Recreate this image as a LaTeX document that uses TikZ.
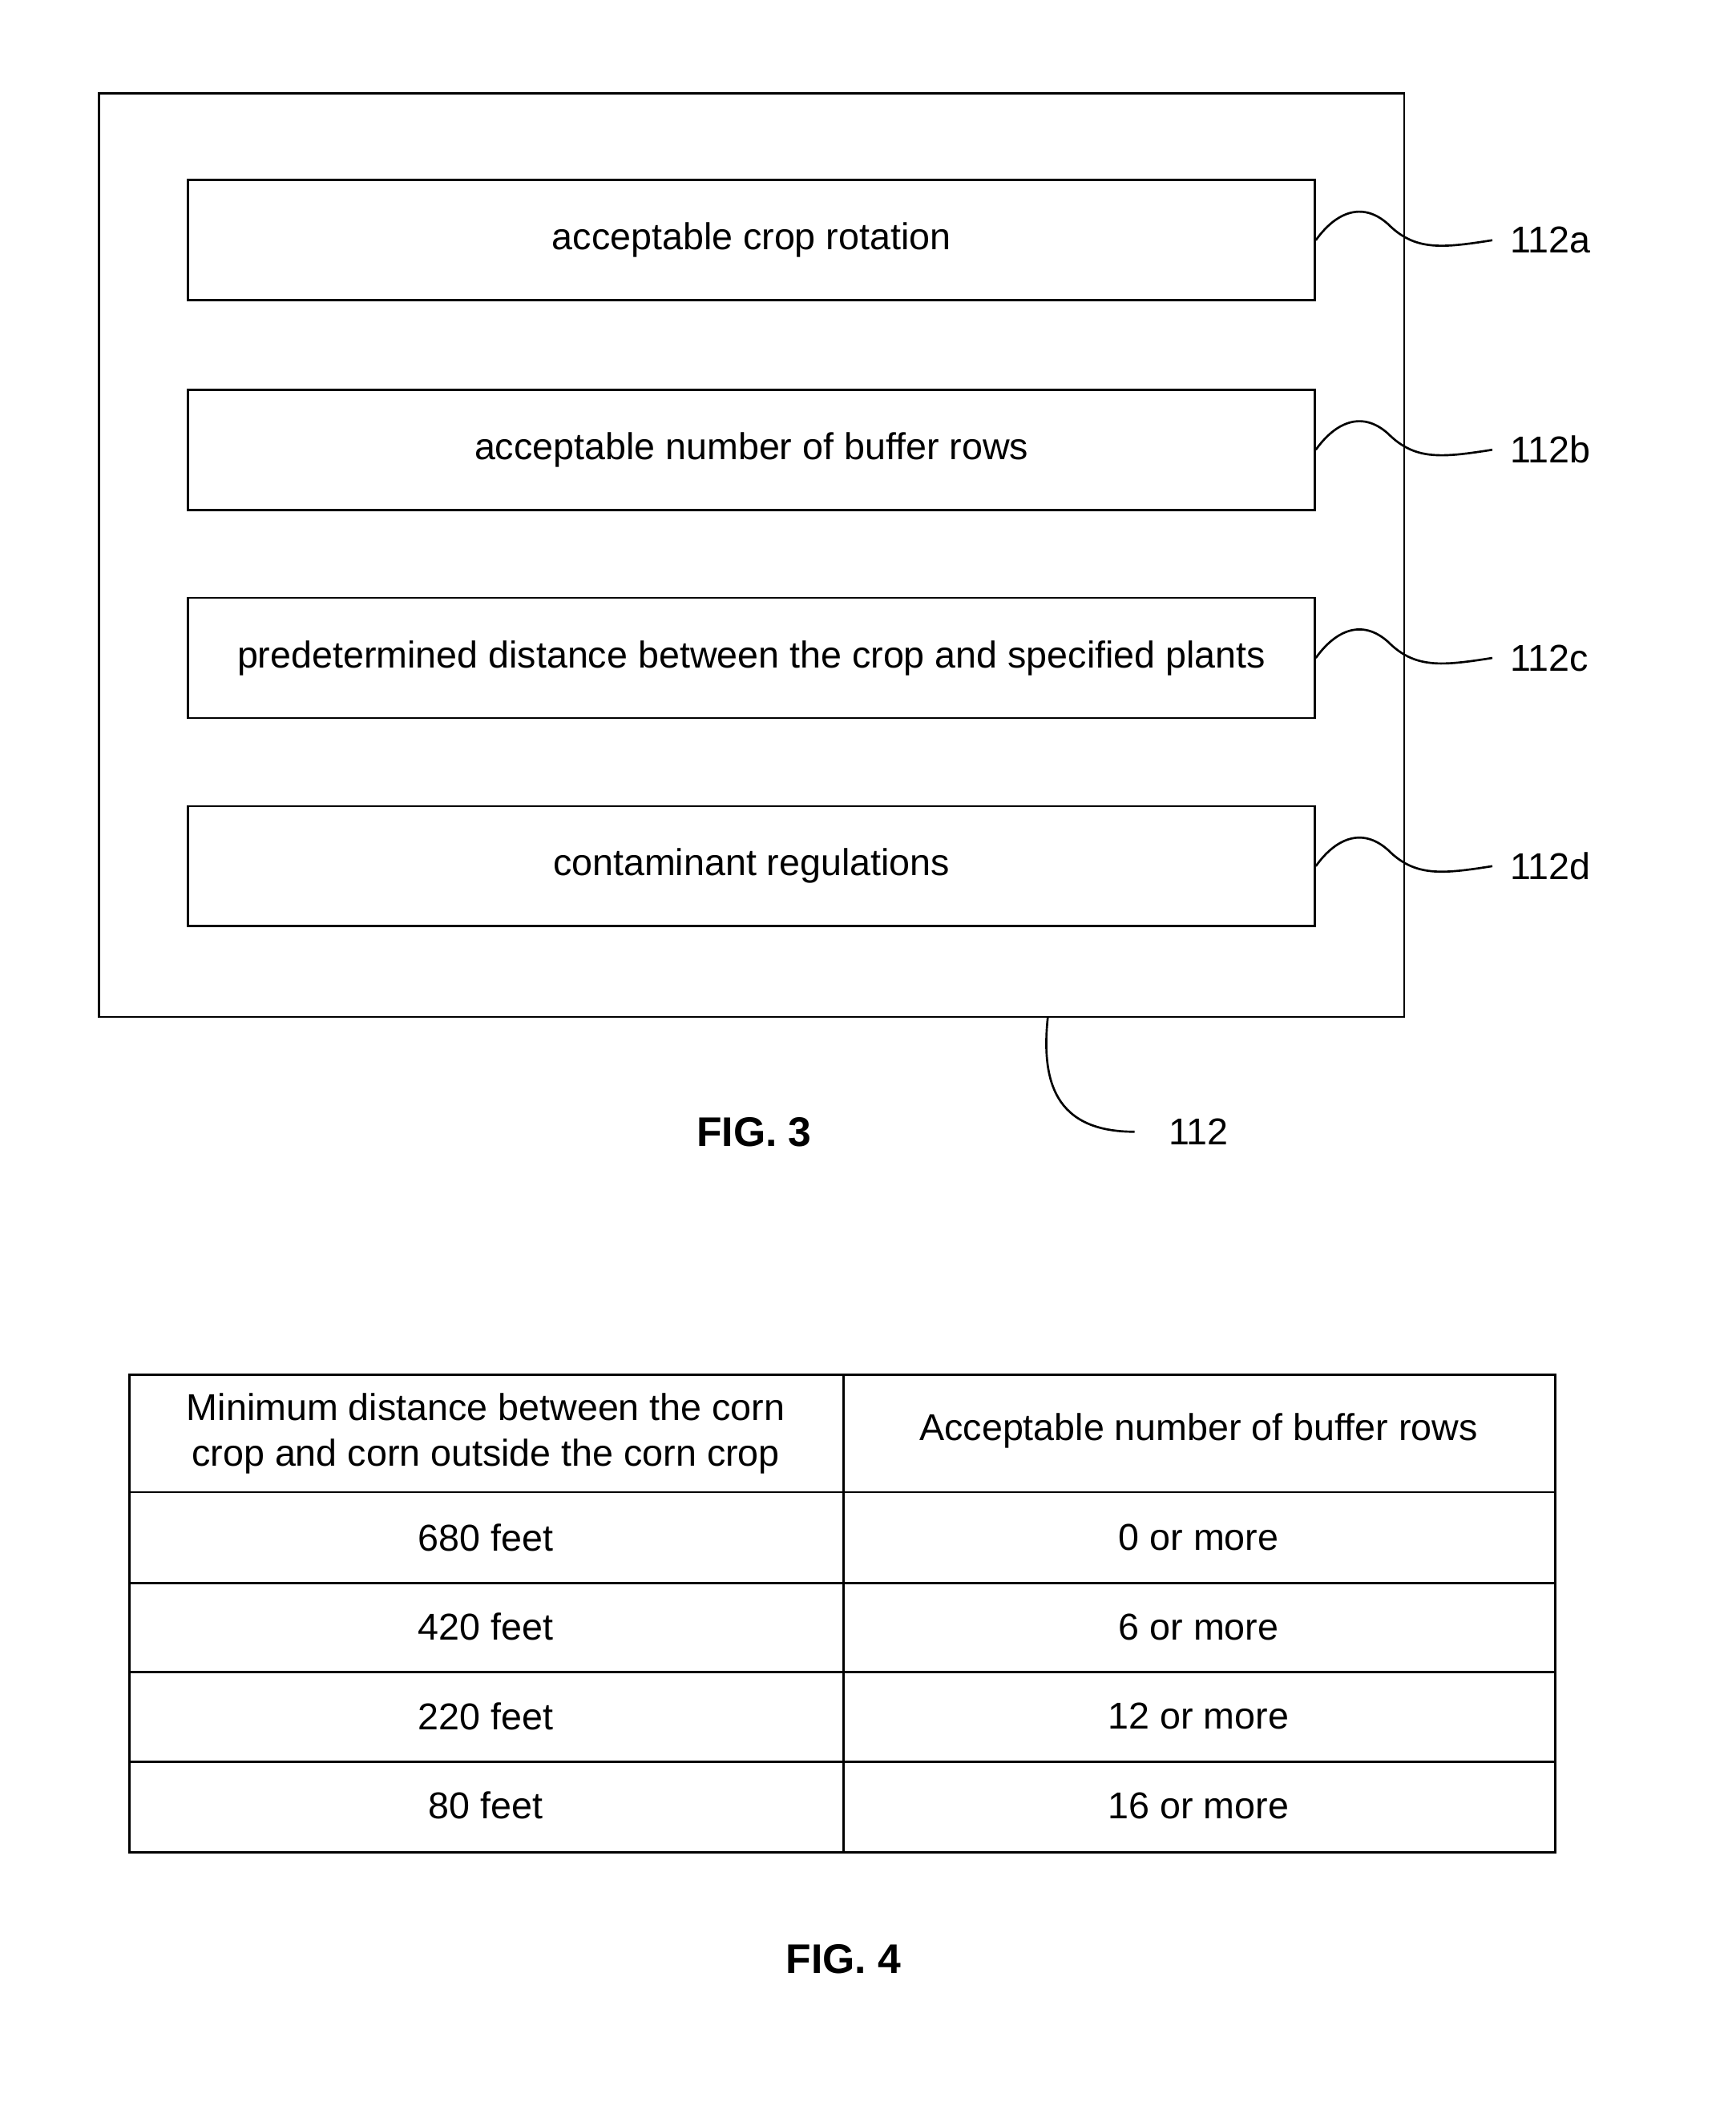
\documentclass[tikz,border=0pt]{standalone}
\usepackage{fontspec}
\setmainfont{Liberation Sans}
\begin{document}
\begin{tikzpicture}[x=1pt,y=-1pt,
  ln/.style={line width=1.6pt},
  bx/.style={draw,line width=1.6pt,minimum width=844pt,minimum height=90pt,inner sep=0pt},
  cell/.style={minimum width=534pt,inner sep=0pt,align=center},
  every node/.style={font=\fontsize{28}{34}\selectfont}]
\useasboundingbox (0,0) rectangle (1300,1581);
\draw[ln] (74,70) rectangle (1052,762);
\foreach \n/\y/\t in {a/180/acceptable crop rotation,b/337/acceptable number of buffer rows,c/493/predetermined distance between the crop and specified plants,d/649/contaminant regulations}{
  \node[bx] (b\n) at (563,\y) {\t};
  \coordinate (e\n) at (1118,\y);
  \node[anchor=west] (l\n) at (1128,\y) {112\n};
  \draw[ln] (b\n.east) .. controls (1000,\y-20) and (1020,\y-30) .. (1040,\y-12) .. controls (1060,\y+8) and (1080,\y+6) .. (e\n);
}
\coordinate (o) at (785,762);
\coordinate (p) at (850,848);
\node[anchor=west] (l112) at (872,848) {112};
\draw[ln] (o) .. controls (780,810) and (790,848) .. (p);
\node[font=\fontsize{31}{36}\selectfont\bfseries] (f3) at (565,848) {FIG. 3};
% table
\draw[ln] (97,1030) rectangle (1165,1388);
\draw[ln] (632,1030) -- (632,1388);
\foreach \y in {1118,1186,1253,1320} \draw[ln] (97,\y) -- (1165,\y);
\node[cell] (h1) at (364,1074) {Minimum distance between the corn\\crop and corn outside the corn crop};
\node[cell] (h2) at (898,1072) {Acceptable number of buffer rows};
\foreach \i/\y/\a/\b in {1/1152/680 feet/0 or more,2/1219/420 feet/6 or more,3/1286/220 feet/12 or more,4/1353/80 feet/16 or more}{
  \node[cell] (r\i a) at (364,\y) {\a};
  \node[cell] (r\i b) at (898,\y) {\b};
}
\node[font=\fontsize{31}{36}\selectfont\bfseries] (f4) at (632,1468) {FIG. 4};
\end{tikzpicture}
\end{document}
